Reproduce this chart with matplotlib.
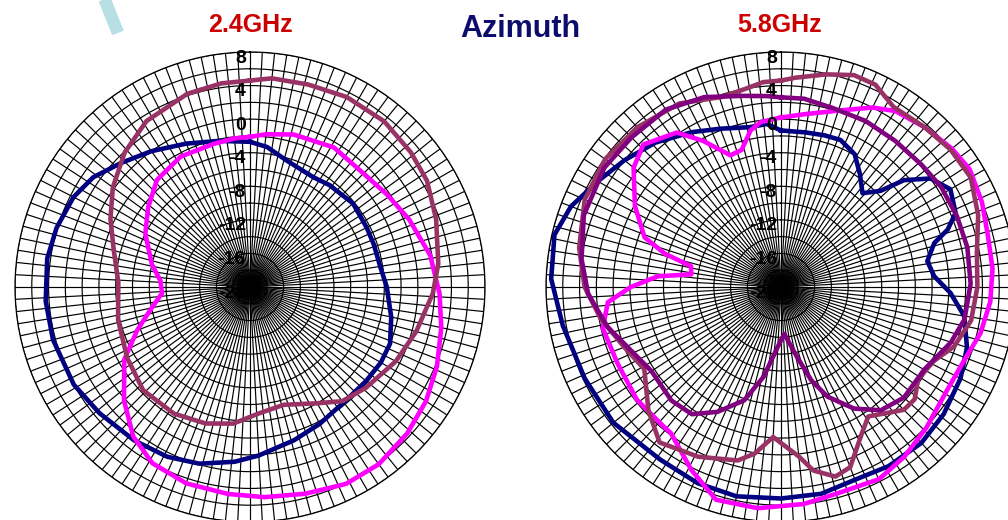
import matplotlib
matplotlib.use("Agg")
import matplotlib.pyplot as plt
import numpy as np
from matplotlib.lines import Line2D

plt.rcParams['font.family'] = ['Liberation Sans', 'DejaVu Sans']

# radial scale (dB)
r_min, r_max = -20, 8
ring_labels = [8, 4, 0, -4, -8, -12, -16, -20]

# ---- 2.4 GHz ----
l_navy_ang = [0, 7, 16, 30, 38, 51, 63, 71, 81, 90, 102, 112, 120, 129, 140, 153, 164, 177, 185, 196,
              206, 217, 230, 241, 255, 266, 278, 287, 297, 305, 314, 324, 336, 348]
l_navy_val = [-2.7, -3.2, -4.3, -4.9, -4.6, -4.2, -4.4, -4.4, -4.3, -3.7, -2.8, -2.0, -2.0, -2.2, -2.3, -1.7,
              -1.0, 0.1, 0.9, 1.9, 2.5, 2.9, 3.4, 4.0, 4.3, 4.4, 4.4, 4.1, 3.6, 2.8, 1.3, 0.0, -1.3, -2.2]

l_mag_ang = [0, 6, 16, 31, 43, 56, 67, 80, 92, 102, 113, 123, 133, 144, 154, 165, 176, 186, 198, 209,
             218, 228, 240, 249, 257, 266, 274, 283, 297, 308, 319, 332, 346, 354]
l_mag_val = [-2.1, -1.7, -1.1, -0.6, -0.9, -0.3, 0.6, 1.8, 2.6, 3.3, 4.2, 5.0, 5.6, 6.1, 6.1, 5.5, 5.1,
             4.8, 4.6, 4.0, 2.6, 0.2, -2.7, -5.6, -7.8, -9.5, -9.3, -8.0, -6.0, -4.6, -3.1, -2.4, -2.4, -2.2]

l_plum_ang = [0, 6, 16, 27, 39, 50, 59, 70, 83, 92, 105, 117, 131, 141, 150, 164, 176, 187, 198, 211,
              226, 240, 256, 272, 285, 296, 306, 317, 328, 342, 352]
l_plum_val = [4.6, 5.0, 5.1, 5.4, 5.4, 5.0, 4.6, 3.6, 2.6, 1.8, 0.5, -0.5, -1.7, -2.5, -4.0, -5.4, -4.9,
              -3.6, -2.9, -2.4, -2.3, -3.1, -3.8, -4.3, -3.2, -1.5, 0.2, 1.9, 3.3, 4.2, 4.5]

# ---- 5.8 GHz ----
r_navy_ang = [0, 9, 16, 22, 29, 35, 41, 46, 49, 54, 60, 67, 71, 74, 80, 86, 92, 99, 108, 117, 128, 138,
              149, 159, 169, 180, 192, 203, 215, 231, 245, 260, 272, 283, 291, 300, 309, 319, 330, 339,
              349, 355]
r_navy_val = [-1.35, -1.35, -1.2, -1.1, -1.9, -3.6, -5.2, -3.5, -0.6, 2.0, 3.3, 2.6, 1.0, -1.0, -2.3,
              -1.7, 0.2, 2.1, 3.3, 4.0, 4.6, 5.0, 4.9, 4.6, 5.1, 5.2, 5.5, 5.4, 5.1, 5.7, 5.8, 6.4, 7.4,
              7.7, 6.8, 5.2, 4.0, 2.8, 1.3, 0.2, -0.6, -0.5]

r_mag_ang = [0, 8, 18, 27, 33, 42, 51, 58, 67, 76, 85, 94, 103, 112, 122, 134, 144, 153, 165, 174, 186,
             197, 206, 217, 221, 232, 245, 257, 265, 270, 275, 278, 283, 286, 290, 299, 309, 316, 326,
             332, 339, 344, 349, 353]
r_mag_val = [0.2, 0.8, 2.1, 4.0, 5.0, 5.6, 6.2, 6.5, 6.0, 5.4, 5.3, 5.0, 4.4, 3.5, 3.3, 4.1, 5.0, 5.7,
             5.5, 6.0, 6.5, 6.5, 4.3, 1.8, 1.7, 1.8, 1.5, 1.8, 0.7, -2.1, -5.3, -9.2, -9.0, -5.6, -2.7,
             -0.1, 2.6, 3.6, 2.2, -0.3, -3.2, -3.0, -1.0, -0.2]

r_plum_ang = [0, 4, 12, 19, 25, 32, 42, 51, 60, 70, 80, 90, 100, 109, 116, 124, 130, 135, 146, 151, 159,
              164, 170, 174, 183, 189, 194, 206, 218, 227, 239, 249, 260, 270, 281, 294, 306, 318, 331,
              343, 350, 355]
r_plum_val = [4.6, 5.0, 5.9, 6.7, 6.6, 5.3, 5.6, 6.0, 6.1, 5.0, 3.7, 3.4, 3.0, 1.8, 0.2, -0.3, 0.8, 0.7,
              -1.4, -0.1, 3.0, 3.5, 2.2, 0.3, -2.1, 0.1, 1.3, 2.5, 3.5, 1.6, -1.0, 0.0, 1.8, 3.4, 4.5,
              5.6, 5.9, 5.6, 5.0, 3.7, 4.0, 4.5]

r_purp_ang = [0, 7, 16, 27, 38, 49, 58, 68, 78, 89, 100, 108, 120, 132, 141, 149, 157, 162, 167, 176,
              183, 191, 198, 207, 215, 224, 237, 247, 257, 268, 278, 290, 304, 315, 327, 338, 349, 356]
r_purp_val = [2.6, 2.6, 2.2, 2.2, 2.1, 2.2, 2.5, 2.6, 2.7, 2.6, 2.2, 1.3, -0.3, -0.3, -1.1, -3.1, -5.8,
              -8.3, -11.4, -14.4, -12.9, -9.1, -5.8, -3.3, -1.5, -1.2, -1.6, -0.6, 1.2, 3.0, 4.0, 5.0,
              5.4, 5.2, 5.2, 4.4, 3.2, 2.8]

navy = '#000080'
magenta = '#ff00ff'
plum = '#993366'
purple = '#800080'

W, H = 1008, 520
fig = plt.figure(figsize=(W / 100, H / 100), dpi=100)


def make_axes(cx, cy, rad):
    ax = fig.add_axes([(cx - rad) / W, (H - cy - rad) / H, 2 * rad / W, 2 * rad / H],
                      projection='polar')
    ax.set_theta_zero_location('N')
    ax.set_theta_direction(-1)
    ax.set_ylim(r_min, r_max)
    ax.set_xticks(np.radians(np.arange(0, 360, 3)))
    ax.set_xticklabels([])
    ax.set_yticks(np.arange(r_min, r_max + 1, 2))
    ax.set_yticklabels([])
    ax.grid(True, color='black', linewidth=0.85)
    ax.spines['polar'].set_color('black')
    ax.spines['polar'].set_linewidth(0.9)
    ax.tick_params(length=0)
    for v in ring_labels:
        ax.annotate(str(v), xy=(0, v), xytext=(-4, -6), textcoords='offset pixels',
                    ha='right', va='center', fontsize=14, fontweight='bold', color='black',
                    zorder=5)
    return ax


def trace(ax, ang, val, color):
    a = np.radians(list(ang) + [ang[0]])
    v = list(val) + [val[0]]
    ax.plot(a, v, color=color, linewidth=3.3, solid_joinstyle='round', zorder=3)


ax1 = make_axes(250, 287, 235)
trace(ax1, l_navy_ang, l_navy_val, navy)
trace(ax1, l_mag_ang, l_mag_val, magenta)
trace(ax1, l_plum_ang, l_plum_val, plum)

ax2 = make_axes(781, 287, 235)
trace(ax2, r_navy_ang, r_navy_val, navy)
trace(ax2, r_mag_ang, r_mag_val, magenta)
trace(ax2, r_plum_ang, r_plum_val, plum)
trace(ax2, r_purp_ang, r_purp_val, purple)

# titles
fig.text(250 / W, 1 - 25 / H, '2.4GHz', ha='center', va='center', fontsize=18,
         fontweight='bold', color='#cc0000')
fig.text(780 / W, 1 - 25 / H, '5.8GHz', ha='center', va='center', fontsize=18,
         fontweight='bold', color='#cc0000')
fig.text(520 / W, 1 - 29 / H, 'Azimuth', ha='center', va='center', fontsize=22,
         fontweight='bold', color='#0c0c6c')

# light blue decorative stroke at top left
fig.add_artist(Line2D([104 / W, 118 / W], [1 + 2 / H, 1 - 33 / H], color='#b8dfe4',
                      linewidth=9, solid_capstyle='butt'))

fig.savefig('out.png', dpi=100)
